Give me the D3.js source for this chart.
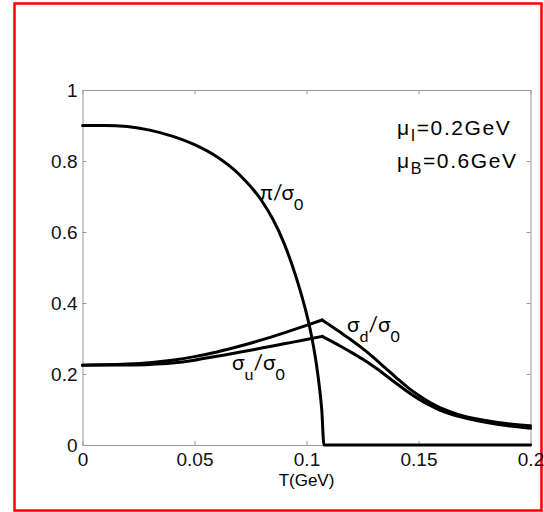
<!DOCTYPE html>
<html lang="en">
<head>
<meta charset="utf-8">
<title>Condensates vs T</title>
<script src="https://d3js.org/d3.v7.min.js"></script>
<style>
  body { margin: 0; background: #fff; }
  svg { display: block; }
  .axis text { font-family: "Liberation Sans", Arial, sans-serif; font-size: 19px; fill: #111; }
  .axis path, .axis line { stroke: #999; stroke-width: 1; }
  .curve { fill: none; stroke: #000; stroke-width: 3; stroke-linejoin: miter; stroke-linecap: round; }
  .lbl { font-family: Lato, "Open Sans", sans-serif; font-size: 21px; fill: #000; }
  .note { font-family: "Liberation Sans", Arial, sans-serif; font-size: 21px; letter-spacing: 1.6px; fill: #000; }
</style>
</head>
<body>
<script>
// pion condensate pi/sigma0
const tPi   = [0, 0.01, 0.02, 0.03, 0.04, 0.05, 0.06, 0.07, 0.08, 0.085, 0.09, 0.095, 0.1, 0.102, 0.104, 0.106, 0.1068, 0.1078, 0.15, 0.2];
const piVal = [0.9, 0.9, 0.897, 0.887, 0.87, 0.846, 0.812, 0.762, 0.688, 0.636, 0.568, 0.48, 0.37, 0.315, 0.245, 0.15, 0.1, 0, 0, 0];

// chiral condensates sigma_d/sigma0 and sigma_u/sigma0
const tSigma = [0, 0.01, 0.02, 0.03, 0.04, 0.05, 0.06, 0.07, 0.08, 0.09, 0.1, 0.107,
                0.115, 0.12, 0.125, 0.13, 0.135, 0.14, 0.145, 0.15, 0.155, 0.16, 0.165, 0.17, 0.18, 0.19, 0.2];
const sigmaD = [0.225, 0.2258, 0.228, 0.232, 0.239, 0.249, 0.262, 0.278, 0.296, 0.316, 0.337, 0.352,
                0.318, 0.296, 0.272, 0.246, 0.218, 0.19, 0.163, 0.14, 0.12, 0.104, 0.092, 0.082, 0.069, 0.06, 0.054];
const sigmaU = [0.225, 0.2251, 0.2255, 0.227, 0.231, 0.239, 0.25, 0.261, 0.273, 0.285, 0.297, 0.306,
                0.279, 0.261, 0.242, 0.221, 0.198, 0.174, 0.151, 0.13, 0.112, 0.097, 0.086, 0.077, 0.064, 0.054, 0.047];

const xTicks = [0, 0.05, 0.1, 0.15, 0.2];
const xTickLabels = ["0", "0.05", "0.1", "0.15", "0.2"];
const yTicks = [0, 0.2, 0.4, 0.6, 0.8, 1];
const yTickLabels = ["0", "0.2", "0.4", "0.6", "0.8", "1"];

const w = 544, h = 512;
const padL = 82.5, padR = 530.5, padT = 90, padB = 445;

const svg = d3.select("body").append("svg")
  .attr("width", w)
  .attr("height", h);

svg.append("rect").attr("width", w).attr("height", h).attr("fill", "#fff");

// red frame
svg.append("rect")
  .attr("x", 14.5).attr("y", 3.5)
  .attr("width", 527).attr("height", 507)
  .attr("fill", "none")
  .attr("stroke", "#f00")
  .attr("stroke-width", 2.5);

const x = d3.scaleLinear().domain([0, 0.2]).range([padL, padR]);
const y = d3.scaleLinear().domain([0, 1]).range([padB, padT]);

// axes (box with inward ticks)
svg.append("g").attr("class", "axis")
  .attr("transform", `translate(0,${padB})`)
  .call(d3.axisBottom(x).tickValues(xTicks).tickSizeInner(-4).tickSizeOuter(0).tickPadding(8)
    .tickFormat((d, i) => xTickLabels[i]));
svg.append("g").attr("class", "axis")
  .attr("transform", `translate(0,${padT})`)
  .call(d3.axisTop(x).tickValues(xTicks).tickSizeInner(-4).tickSizeOuter(0).tickFormat(""));
svg.append("g").attr("class", "axis")
  .attr("transform", `translate(${padL},0)`)
  .call(d3.axisLeft(y).tickValues(yTicks).tickSizeInner(-4).tickSizeOuter(0).tickPadding(5)
    .tickFormat((d, i) => yTickLabels[i]));
svg.append("g").attr("class", "axis")
  .attr("transform", `translate(${padR},0)`)
  .call(d3.axisRight(y).tickValues(yTicks).tickSizeInner(-4).tickSizeOuter(0).tickFormat(""));

svg.append("text")
  .attr("x", x(0.1)).attr("y", 486)
  .attr("text-anchor", "middle")
  .style("font-family", "'Liberation Sans', Arial, sans-serif")
  .style("font-size", "17px")
  .text("T(GeV)");

// curves
const line = d3.line().curve(d3.curveMonotoneX).x(d => x(d[0])).y(d => y(d[1]));

// sigma curves have a sharp kink at their maximum: draw both sides separately
const kink = d3.maxIndex(sigmaD);
[sigmaD, sigmaU].forEach(vals => {
  const pts = d3.zip(tSigma, vals);
  svg.append("path").attr("class", "curve").attr("d", line(pts.slice(0, kink + 1)));
  svg.append("path").attr("class", "curve").attr("d", line(pts.slice(kink)));
});
svg.append("path").attr("class", "curve").attr("d", line(d3.zip(tPi, piVal)));

// curve labels
function label(px, py, parts) {
  const t = svg.append("text").attr("class", "lbl").attr("x", px).attr("y", py);
  let shift = 0;
  parts.forEach(p => {
    const dy = (p.sub ? 10 : 0) - shift;
    shift = p.sub ? 10 : 0;
    t.append("tspan").attr("dy", dy).style("font-size", p.sub ? "16px" : null).text(p.s);
  });
}
label(260, 200, [{s: "π/σ"}, {s: "0", sub: true}]);
label(347, 332, [{s: "σ"}, {s: "d", sub: true}, {s: "/σ"}, {s: "0", sub: true}]);
label(232, 370, [{s: "σ"}, {s: "u", sub: true}, {s: "/σ"}, {s: "0", sub: true}]);

// parameter note
function note(px, py, sub, rest) {
  const t = svg.append("text").attr("class", "note").attr("x", px).attr("y", py);
  t.append("tspan").text("μ");
  t.append("tspan").attr("dy", 6).style("font-size", "16px").text(sub);
  t.append("tspan").attr("dy", -6).text(rest);
}
note(397, 135, "I", "=0.2GeV");
note(397, 168, "B", "=0.6GeV");
</script>
</body>
</html>
